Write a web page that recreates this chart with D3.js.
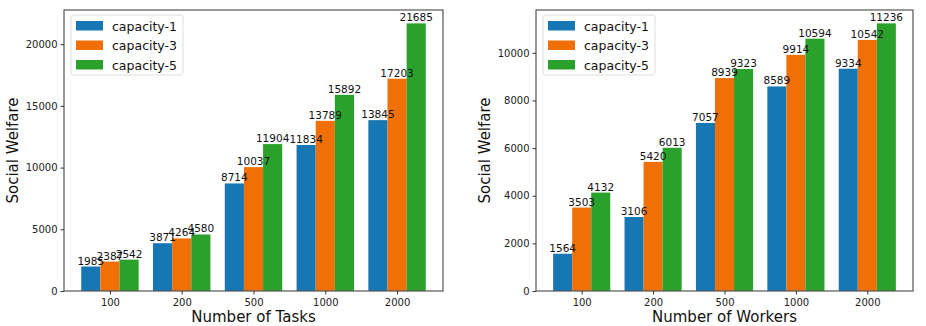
<!DOCTYPE html>
<html><head><meta charset="utf-8">
<script src="https://cdn.jsdelivr.net/npm/d3@7"></script>
<style>body{margin:0;background:#fff}svg{display:block}</style>
</head><body>
<svg id="c" width="926" height="326"></svg>
<script>
const seriesNames = ["capacity-1", "capacity-3", "capacity-5"];
const colors = ["#1677b4", "#f07007", "#2aa12a"];

const taskCategories = ["100", "200", "500", "1000", "2000"];
const taskCap1 = [1985, 3871, 8714, 11834, 13845];
const taskCap3 = [2387, 4264, 10037, 13789, 17203];
const taskCap5 = [2542, 4580, 11904, 15892, 21685];
const taskTicks = [0, 5000, 10000, 15000, 20000];

const workerCategories = ["100", "200", "500", "1000", "2000"];
const workerCap1 = [1564, 3106, 7057, 8589, 9334];
const workerCap3 = [3503, 5420, 8939, 9914, 10542];
const workerCap5 = [4132, 6013, 9323, 10594, 11236];
const workerTicks = [0, 2000, 4000, 6000, 8000, 10000];

const svg = d3.select("#c");
const font = "DejaVu Sans, sans-serif";

function panel(opts) {
  const {x0, x1, y0, y1, cats, series, ticks, xlabel} = opts;
  const g = svg.append("g");
  const n = cats.length;
  const x = d3.scaleLinear().domain([-0.64, n - 1 + 0.64]).range([x0, x1]);
  const maxV = d3.max(series.flat());
  const y = d3.scaleLinear().domain([0, maxV * 1.05]).range([y1, y0]);
  const bw = 0.8 / series.length;
  const offOf = si => (si - (series.length - 1) / 2) * bw;

  series.forEach((vals, si) => {
    g.selectAll(null).data(vals).enter().append("rect")
      .attr("x", (d, i) => x(i + offOf(si) - bw / 2))
      .attr("width", x(bw) - x(0))
      .attr("y", d => y(d))
      .attr("height", d => y(0) - y(d))
      .attr("fill", colors[si]);
  });
  series.forEach((vals, si) => {
    g.selectAll(null).data(vals).enter().append("text")
      .attr("x", (d, i) => x(i + offOf(si)))
      .attr("y", d => y(d) - 2)
      .attr("text-anchor", "middle")
      .attr("font-family", font).attr("font-size", 10.5).attr("fill", "#111")
      .text(d => d);
  });

  // frame
  g.append("rect").attr("x", x0).attr("y", y0).attr("width", x1 - x0).attr("height", y1 - y0)
    .attr("fill", "none").attr("stroke", "#555").attr("stroke-width", 1.2);

  const yAxis = g.append("g").attr("transform", `translate(${x0},0)`)
    .call(d3.axisLeft(y).tickValues(ticks).tickSize(3.5).tickPadding(3).tickFormat(d3.format("d")));
  yAxis.select(".domain").remove();
  yAxis.selectAll("line").attr("stroke", "#333");
  yAxis.selectAll("text").attr("font-family", font).attr("font-size", 10).attr("fill", "#222");

  const xAxis = g.append("g").attr("transform", `translate(0,${y1})`)
    .call(d3.axisBottom(x).tickValues(d3.range(n)).tickSize(3.5).tickPadding(4).tickFormat(i => cats[i]));
  xAxis.select(".domain").remove();
  xAxis.selectAll("line").attr("stroke", "#333");
  xAxis.selectAll("text").attr("font-family", font).attr("font-size", 10).attr("fill", "#222");

  g.append("text").attr("x", (x0 + x1) / 2).attr("y", 322)
    .attr("text-anchor", "middle").attr("font-family", font).attr("font-size", 15).attr("fill", "#111")
    .text(xlabel);
  g.append("text").attr("transform", `translate(${x0 - 46},${(y0 + y1) / 2}) rotate(-90)`)
    .attr("text-anchor", "middle").attr("font-family", font).attr("font-size", 15).attr("fill", "#111")
    .text("Social Welfare");

  // legend
  const lg = g.append("g").attr("transform", `translate(${x0 + 7},${y0 + 5})`);
  lg.append("rect").attr("width", 112).attr("height", 60).attr("rx", 2.5)
    .attr("fill", "#fff").attr("fill-opacity", 0.8).attr("stroke", "#ddd");
  seriesNames.forEach((s, i) => {
    lg.append("rect").attr("x", 5).attr("y", 6 + i * 19.5).attr("width", 27).attr("height", 9.5).attr("fill", colors[i]);
    lg.append("text").attr("x", 41).attr("y", 15.5 + i * 19.5)
      .attr("font-family", font).attr("font-size", 12.5).attr("fill", "#111").text(s);
  });
}

panel({x0: 64, x1: 443, y0: 10, y1: 291, cats: taskCategories,
  series: [taskCap1, taskCap3, taskCap5], ticks: taskTicks, xlabel: "Number of Tasks"});
panel({x0: 536, x1: 913, y0: 10, y1: 291, cats: workerCategories,
  series: [workerCap1, workerCap3, workerCap5], ticks: workerTicks, xlabel: "Number of Workers"});
</script>
</body></html>
